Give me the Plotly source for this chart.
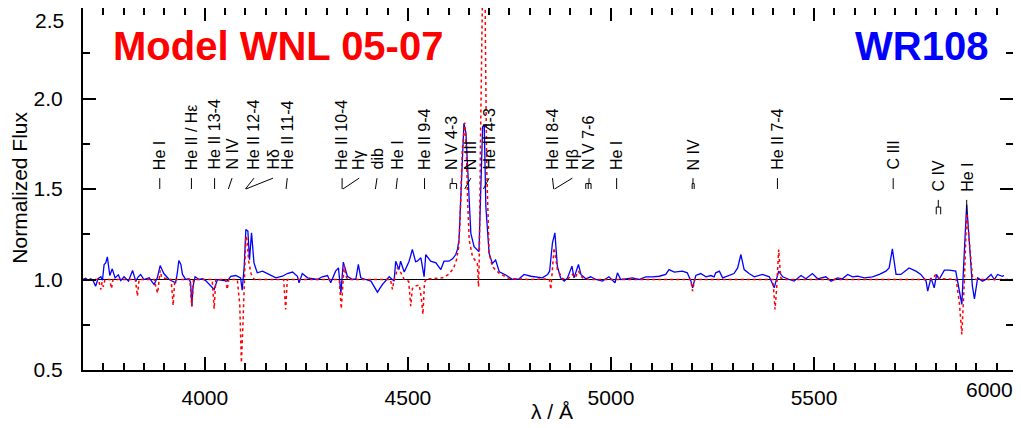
import plotly.graph_objects as go

# ---------------- data ----------------
BLUE_WL = [3700, 3706.5, 3713, 3719, 3725, 3731, 3737, 3744, 3748, 3752, 3756, 3760, 3766, 3772, 3779,
           3787, 3793, 3801, 3812, 3822, 3830, 3836, 3842, 3850, 3863, 3875, 3883, 3890, 3895, 3899,
           3912, 3924, 3928, 3932, 3936, 3941, 3945, 3953, 3961, 3965, 3968, 3971, 3976, 3986, 3994,
           4002, 4014, 4023, 4031, 4043, 4055, 4064, 4076, 4088, 4092, 4097, 4101, 4106, 4110, 4115,
           4121, 4129, 4142, 4158, 4175, 4191, 4203, 4216, 4228, 4232, 4240, 4253, 4265, 4277, 4289,
           4302, 4310, 4322, 4329, 4335, 4341, 4351, 4363, 4372, 4378, 4384, 4396, 4409, 4425, 4437,
           4454, 4466, 4470, 4478, 4482, 4491, 4503, 4511, 4519, 4523, 4532, 4540, 4544, 4556, 4569,
           4581, 4589, 4601, 4610, 4618, 4622, 4626, 4630, 4634, 4638, 4643, 4647, 4651, 4655, 4663,
           4675, 4679, 4684, 4688, 4692, 4700, 4708, 4716, 4725, 4741, 4757, 4774, 4786, 4803, 4815,
           4831, 4844, 4849, 4856, 4862, 4868, 4876, 4885, 4893, 4904, 4909, 4920, 4926, 4938, 4950,
           4963, 4979, 4995, 5010, 5016, 5024, 5037, 5053, 5069, 5086, 5102, 5119, 5135, 5143, 5156,
           5176, 5188, 5197, 5201, 5209, 5221, 5234, 5246, 5254, 5258, 5267, 5275, 5291, 5303, 5312,
           5320, 5328, 5340, 5353, 5373, 5390, 5402, 5413, 5423, 5439, 5451, 5468, 5480, 5496, 5509,
           5529, 5542, 5558, 5570, 5583, 5595, 5607, 5624, 5644, 5661, 5677, 5685, 5693, 5702, 5714,
           5722, 5734, 5751, 5763, 5776, 5780, 5788, 5796, 5802, 5808, 5821, 5833, 5849, 5858, 5864,
           5870, 5876, 5882, 5890, 5895, 5903, 5915, 5923, 5936, 5944, 5952, 5964, 5968]
BLUE_FLUX = [1.000, 1.007, 0.996, 1.004, 0.993, 0.963, 1.004, 1.015, 0.996, 1.083, 1.092, 1.125, 1.022, 1.059, 1.009,
             1.026, 0.994, 1.015, 0.991, 1.050, 0.991, 1.015, 1.028, 1.000, 1.009, 0.972, 1.009, 1.077, 1.052, 1.033,
             1.000, 0.985, 0.982, 1.033, 1.105, 1.083, 1.028, 1.000, 1.004, 0.982, 0.853, 0.963, 1.015, 1.000, 1.004,
             0.994, 0.963, 0.945, 1.000, 0.994, 0.991, 1.018, 1.022, 1.009, 0.941, 1.074, 1.276, 1.267, 1.110, 1.258,
             1.092, 1.037, 1.046, 1.028, 1.009, 1.018, 1.033, 1.041, 1.018, 0.982, 1.033, 1.009, 1.004, 1.000, 1.015,
             1.022, 0.982, 1.046, 1.064, 0.926, 1.096, 1.018, 1.000, 1.004, 1.083, 1.009, 1.000, 0.991, 0.930, 0.972,
             1.015, 0.991, 1.101, 1.055, 1.101, 1.041, 1.101, 1.166, 1.098, 1.101, 1.120, 1.015, 1.138, 1.101, 1.092,
             1.055, 1.101, 1.101, 1.114, 1.138, 1.166, 1.221, 1.439, 1.642, 1.863, 1.808, 1.587, 1.439, 1.255, 1.181,
             1.154, 1.439, 1.844, 1.854, 1.402, 1.145, 1.089, 1.108, 1.043, 1.025, 1.001, 1.004, 1.028, 1.018, 1.015,
             1.009, 1.028, 1.046, 1.203, 1.258, 1.074, 1.009, 0.991, 1.009, 1.074, 1.009, 1.083, 1.028, 1.004, 1.015,
             1.000, 0.991, 1.015, 0.982, 1.037, 1.000, 1.004, 1.009, 1.000, 1.015, 1.015, 1.018, 1.028, 1.055, 1.041,
             1.046, 1.037, 0.991, 0.954, 1.022, 1.033, 1.015, 1.022, 1.015, 1.037, 1.046, 1.009, 1.022, 1.033, 1.064,
             1.138, 1.055, 1.033, 1.015, 1.028, 1.015, 0.954, 1.046, 1.015, 1.000, 0.991, 1.022, 1.004, 1.033, 1.004,
             1.015, 0.991, 1.009, 1.004, 1.028, 1.015, 1.018, 1.009, 1.015, 1.028, 1.046, 1.064, 1.169, 1.028, 1.028,
             1.041, 1.064, 1.046, 1.028, 0.991, 0.936, 1.009, 0.954, 1.028, 1.000, 1.052, 1.052, 1.046, 0.945, 0.862,
             1.147, 1.414, 1.221, 0.963, 0.893, 1.009, 0.991, 1.000, 1.028, 1.000, 1.028, 1.018, 1.022]

RED_WL = [3700, 3738, 3744, 3747, 3750, 3754, 3766, 3770, 3774, 3829, 3834, 3838, 3876, 3880, 3884,
          3887, 3890, 3894, 3917, 3922, 3926, 3963, 3968, 3972, 4018, 4023, 4027, 4051, 4055, 4059,
          4080, 4086, 4090, 4094, 4098, 4101, 4104, 4108, 4114, 4122, 4194, 4199, 4203, 4331, 4336,
          4340, 4343, 4347, 4352, 4457, 4462, 4466, 4471, 4474, 4482, 4491, 4502, 4507, 4511, 4520,
          4528, 4533, 4537, 4541, 4546, 4560, 4585, 4600, 4612, 4620, 4625, 4628, 4630, 4634, 4640,
          4644, 4647, 4651, 4659, 4671, 4674, 4676, 4679, 4681, 4684, 4688, 4691, 4694, 4700, 4708,
          4725, 4749, 4800, 4848, 4852, 4856, 4860, 4864, 4868, 4881, 4895, 4905, 4912, 4920, 4930,
          4945, 5196, 5201, 5206, 5399, 5404, 5408, 5413, 5418, 5425, 5790, 5800, 5808, 5850, 5858,
          5864, 5870, 5876, 5882, 5890, 5899, 5990]
RED_FLUX = [1.000, 1.000, 0.945, 0.985, 0.960, 1.000, 1.000, 0.950, 1.000, 1.000, 0.908, 1.000, 1.000, 0.950, 0.925,
            1.000, 1.050, 1.010, 1.000, 0.856, 1.000, 1.000, 0.850, 1.000, 1.000, 0.838, 1.000, 1.000, 0.945, 1.000,
            1.000, 0.860, 0.540, 0.760, 1.100, 1.240, 1.220, 1.100, 1.030, 1.000, 1.000, 0.834, 1.000, 1.000, 0.838,
            0.960, 1.080, 1.020, 1.000, 1.000, 0.945, 1.000, 1.030, 1.065, 1.040, 1.000, 0.990, 0.853, 0.950, 0.965,
            0.970, 0.900, 0.807, 0.985, 1.005, 1.004, 1.009, 1.028, 1.060, 1.110, 1.180, 1.300, 1.476, 1.715, 1.867,
            1.715, 1.440, 1.218, 1.126, 1.089, 0.960, 1.145, 1.810, 2.360, 3.300, 3.300, 2.300, 1.623, 1.145, 1.071,
            1.034, 1.006, 1.000, 1.004, 0.945, 1.060, 1.175, 1.120, 1.055, 1.004, 1.005, 1.028, 1.010, 1.046, 1.009,
            1.000, 1.000, 0.936, 1.000, 1.000, 0.834, 0.950, 1.166, 1.009, 1.000, 1.000, 1.028, 1.005, 1.000, 0.871,
            0.696, 0.980, 1.368, 1.221, 1.018, 1.000, 1.000]

# line identifications: text, label position, line wavelengths, row (0 = upper, 1 = lower)
ID_TEXT = ["He I", "He II / Hε", "He II 13-4", "N IV", "He II 12-4", "Hδ", "He II 11-4", "He II 10-4",
           "Hγ", "dib", "He I", "He II 9-4", "N V 4-3", "N III", "He II 4-3", "He II 8-4", "Hβ",
           "N V 7-6", "He I", "N IV", "He II 7-4", "C III", "C IV", "He I"]
ID_LABEL_WL = [3889, 3967, 4024, 4067, 4121, 4168, 4203, 4338, 4380, 4424, 4474, 4541, 4609, 4655,
               4700, 4856, 4905, 4946, 5014, 5202, 5410, 5695, 5806, 5876]
ID_LINE_WL = [[3889], [3967], [4024], [4058], [4100], [4101], [4200], [4338], [4340], [4420], [4471],
              [4541], [4604, 4620], [4640], [4686], [4859], [4861], [4938, 4944, 4951], [5014],
              [5200, 5205], [5410], [5695], [5801, 5812], [5876]]
ID_ROW = [0] * 22 + [1, 1]

X_TICKS = [4000, 4500, 5000, 5500]
Y_TICKS = [0.5, 1.0, 1.5, 2.0, 2.5]
Y_TICKTEXT = ["0.5", "1.0", "1.5", "2.0", ""]

FONT = "Liberation Sans, Arial, Helvetica, sans-serif"

# row geometry (flux units): text bottom, connector top, bracket bar, connector bottom
ROWS = [dict(text=1.60, top=1.56, mid=1.53, bot=1.50),
        dict(text=1.48, top=1.44, mid=1.40, bot=1.36)]

fig = go.Figure()

fig.add_trace(go.Scatter(x=[3700, 5990], y=[1.0, 1.0], mode="lines",
                         line=dict(color="black", width=1.2), hoverinfo="skip", showlegend=False))
fig.add_trace(go.Scatter(x=BLUE_WL, y=BLUE_FLUX, mode="lines", name="WR108",
                         line=dict(color="#0000ff", width=1.3), showlegend=False))
fig.add_trace(go.Scatter(x=RED_WL, y=RED_FLUX, mode="lines", name="Model WNL 05-07",
                         line=dict(color="#ff0000", width=1.5, dash="dot"), showlegend=False))

cx, cy = [], []
for lab, lines, row in zip(ID_LABEL_WL, ID_LINE_WL, ID_ROW):
    g = ROWS[row]
    if len(lines) == 1:
        cx += [lines[0], lab, None]
        cy += [g["bot"], g["top"], None]
    else:
        cx += [lab, lab, None, lines[0], lines[-1], None]
        cy += [g["top"], g["mid"], None, g["mid"], g["mid"], None]
        for l in lines:
            cx += [l, l, None]
            cy += [g["mid"], g["bot"], None]
fig.add_trace(go.Scatter(x=cx, y=cy, mode="lines", line=dict(color="black", width=1),
                         hoverinfo="skip", showlegend=False))

annotations = []
for txt, lab, row in zip(ID_TEXT, ID_LABEL_WL, ID_ROW):
    annotations.append(dict(x=lab, y=ROWS[row]["text"], xref="x", yref="y", text=txt,
                            textangle=-90, xanchor="center", yanchor="bottom", showarrow=False,
                            borderpad=0, font=dict(family=FONT, size=16, color="black")))

annotations += [
    dict(x=0.030, y=0.895, xref="paper", yref="paper", text="Model WNL 05-07", showarrow=False,
         xanchor="left", yanchor="middle", font=dict(family=FONT, size=40, color="#ff0000", weight="bold")),
    dict(x=0.975, y=0.895, xref="paper", yref="paper", text="WR108", showarrow=False,
         xanchor="right", yanchor="middle", font=dict(family=FONT, size=40, color="#0000ff", weight="bold")),
    dict(x=0, y=1.0, xref="paper", yref="paper", text="2.5", showarrow=False, xshift=-18,
         xanchor="right", yanchor="top", borderpad=0, font=dict(family=FONT, size=21, color="black")),
    dict(x=1, y=-0.0525, xref="paper", yref="paper", text="6000", showarrow=False, xshift=2,
         xanchor="right", yanchor="middle", font=dict(family=FONT, size=21, color="black")),
    dict(x=0.504, y=-0.116, xref="paper", yref="paper", text="λ / Å", showarrow=False,
         xanchor="center", yanchor="middle", font=dict(family=FONT, size=21, color="black")),
    dict(x=-0.068, y=0.503, xref="paper", yref="paper", text="Normalized Flux", showarrow=False,
         textangle=-90, xanchor="center", yanchor="middle", font=dict(family=FONT, size=21, color="black")),
]

axis_common = dict(showline=True, linewidth=2, linecolor="black", mirror="ticks",
                   ticks="inside", ticklen=13, tickwidth=1.5, tickcolor="black",
                   showgrid=False, zeroline=False, automargin=False,
                   tickfont=dict(family=FONT, size=21, color="black"))

# the page places the figure 8 px in from the top-left corner
fig.update_layout(
    width=1013, height=420,
    margin=dict(l=75, r=8, t=0, b=58),
    plot_bgcolor="white", paper_bgcolor="white",
    annotations=annotations,
    xaxis=dict(range=[3700, 5990], tickmode="array", tickvals=X_TICKS,
               minor=dict(dtick=50, tick0=0, ticks="inside", ticklen=7, tickwidth=1.5, tickcolor="black"),
               ticklabelstandoff=8, **axis_common),
    yaxis=dict(range=[0.5, 2.5], tickmode="array", tickvals=Y_TICKS, ticktext=Y_TICKTEXT,
               minor=dict(dtick=0.25, tick0=0, ticks="inside", ticklen=7, tickwidth=1.5, tickcolor="black"),
               ticklabelstandoff=14, **axis_common),
)

fig.write_html("out.html")
